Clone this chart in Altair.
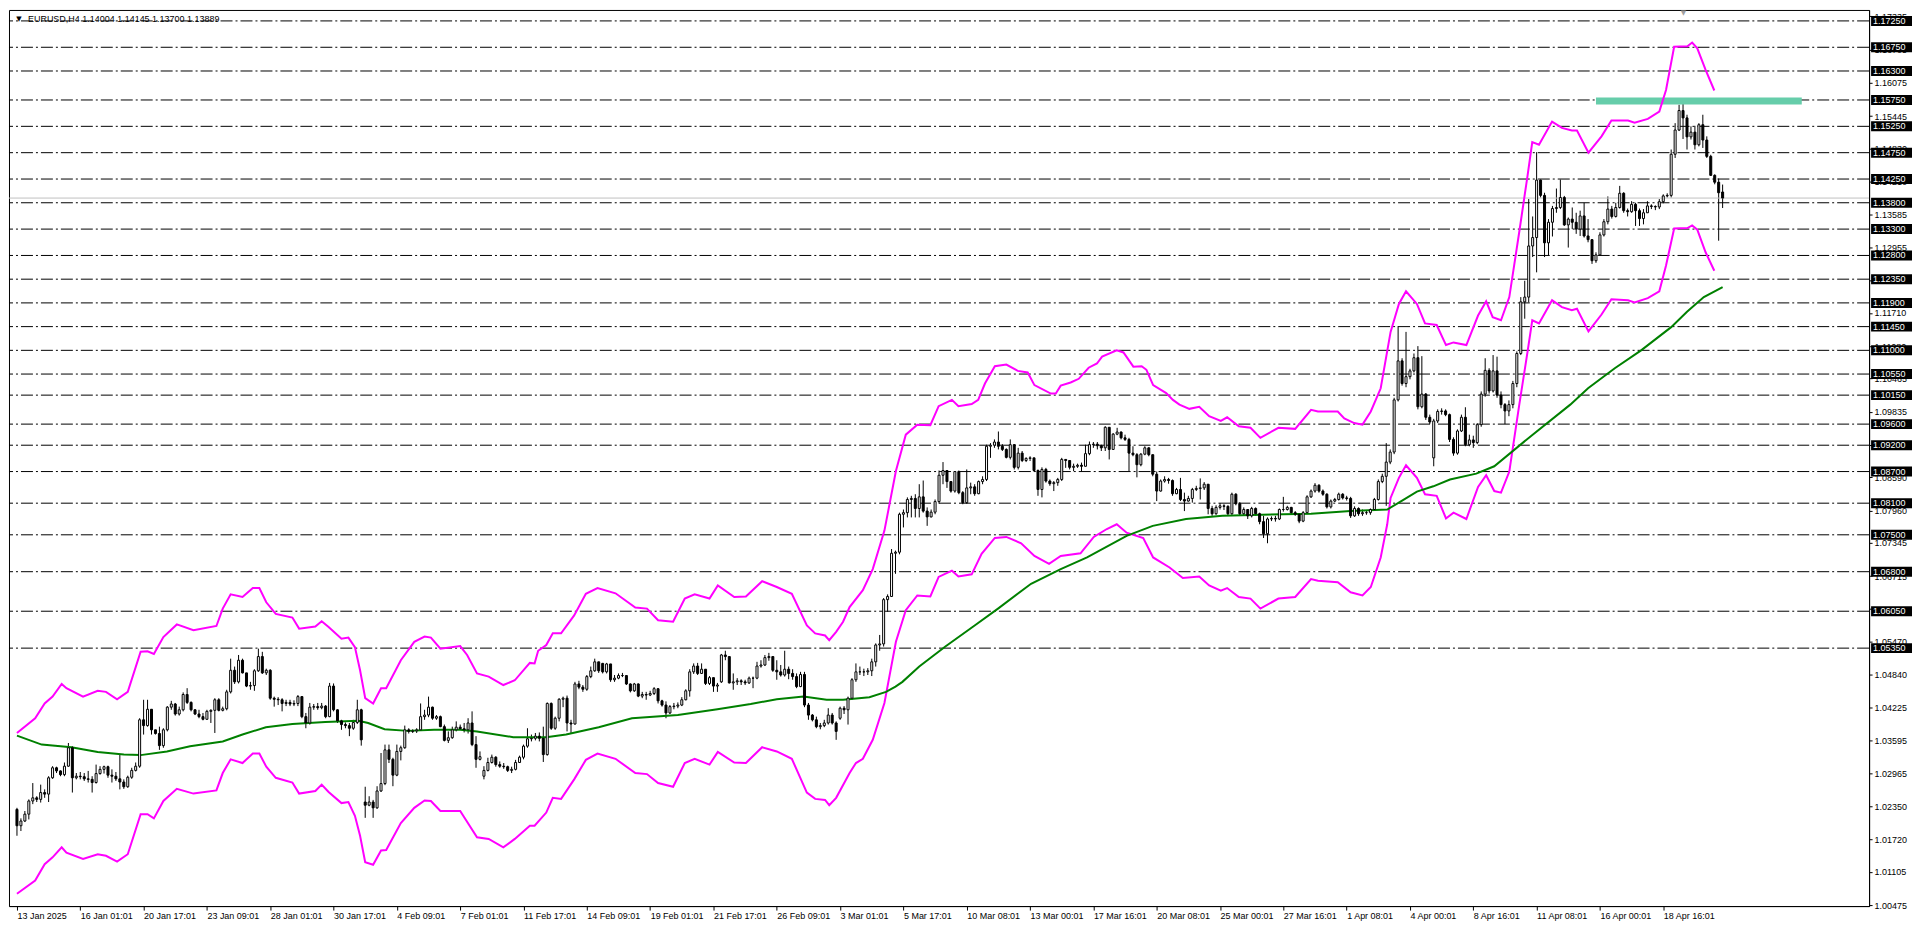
import json
import altair as alt
import pandas as pd

# ---------------- data (pips above 1.0000: price = 1 + v/10000) -------------
close_pips = [
 198,207,220,245,251,248,261,258,289,308, 302,295,311,346,289,292,291,287,286,280,
 297,305,310,294,292,287,281,272,290,303, 311,399,388,419,380,373,350,380,423,429,
 410,418,447,432,418,410,405,400,415,417, 437,417,420,452,493,471,512,488,463,464,
 492,519,488,493,440,438,437,430,432,429, 430,443,405,393,423,424,422,425,405,463,
 418,397,390,388,383,394,418,361,237,243, 232,264,278,342,324,294,339,346,380,377,
 378,380,405,408,423,402,405,386,360,365, 380,385,382,380,393,352,324,329,303,318,
 328,314,311,310,303,305,318,328,349,363, 364,368,364,333,430,383,402,438,440,393,
 391,467,461,457,481,492,509,492,490,505, 475,478,483,483,467,454,467,444,447,446,
 449,458,435,427,412,424,425,427,437,454, 490,501,487,495,468,479,463,465,522,519,
 469,471,473,471,469,478,478,501,503,517, 519,493,490,484,495,487,481,462,485,427,
 408,399,386,388,393,408,393,377,421,418, 440,475,490,490,490,492,509,541,543,627,
 633,715,717,789,792,817,819,800,822,795, 784,793,813,863,872,851,833,870,830,811,
 839,841,828,851,855,918,920,926,918,912, 897,921,878,905,891,895,896,872,836,874,
 852,847,849,855,893,891,878,880,882,880, 904,921,922,919,915,954,912,941,945,934,
 931,905,902,883,903,915,902,865,833,852, 855,853,828,836,817,814,819,836,838,839,
 846,800,790,802,805,804,790,827,809,790, 798,786,800,790,775,752,780,781,780,798,
 798,802,792,789,776,792,822,833,844,833, 827,803,814,817,827,820,819,786,800,790,
 792,792,798,817,851,861,888,907,1006,1080, 1037,1050,1061,1086,993,1017,973,964,966,984,
 985,978,931,905,947,973,921,930,925,959, 1017,1062,1023,1061,1015,997,985,997,1037,1094,
 1192,1201,1298,1314,1423,1394,1304,1343,1369,1371, 1390,1338,1349,1343,1330,1355,1317,1310,1270,1281,
 1319,1344,1368,1354,1371,1398,1365,1363,1377,1365, 1350,1361,1374,1373,1372,1382,1393,1394,1472,1518,
 1555,1541,1505,1514,1490,1528,1499,1468,1432,1419, 1399,1388.9,
]
high_pips = [
 232,212,226,248,279,254,276,267,292,311, 310,303,318,355,349,298,300,298,302,292,
 314,311,312,312,305,300,333,286,293,308, 318,402,437,437,418,380,386,383,425,435,
 431,424,451,459,434,419,418,412,418,419, 440,440,424,456,515,500,522,515,484,471,
 495,534,528,496,495,443,442,440,437,437, 436,446,444,412,431,429,431,431,427,469,
 468,419,399,394,393,399,437,420,272,254, 247,273,336,352,352,327,352,350,388,383,
 381,383,430,418,443,424,408,407,390,377, 386,396,390,393,402,415,368,339,311,327,
 333,330,320,317,312,310,323,331,352,383, 371,374,375,386,432,432,405,440,443,445,
 399,471,473,465,484,500,515,509,507,507, 495,484,487,488,481,468,469,468,452,452,
 454,461,459,437,434,427,431,432,442,457, 495,506,507,506,495,482,479,469,524,530,
 517,487,478,476,475,481,481,509,512,522, 526,519,512,503,530,500,495,487,490,490,
 431,410,405,393,399,421,412,396,424,425, 443,478,506,500,496,497,515,544,560,630,
 637,723,720,792,798,821,824,827,846,853, 802,798,817,872,888,872,852,871,872,833,
 874,849,846,853,861,921,924,931,946,922, 914,931,922,915,909,897,899,895,874,878,
 877,855,852,858,896,893,887,885,885,887, 921,927,926,926,921,956,954,943,953,946,
 940,934,918,905,905,918,916,902,870,855, 861,858,855,839,858,830,824,839,843,857,
 850,846,805,806,810,808,806,830,829,812, 802,795,803,802,792,786,783,785,786,800,
 822,805,803,795,790,795,825,836,848,846, 836,829,817,820,830,829,824,822,804,802,
 798,796,800,820,855,866,924,912,1010,1146, 1085,1135,1065,1094,1108,1089,1019,978,970,988,
 990,988,980,935,950,978,992,940,938,962, 1022,1085,1066,1091,1088,1022,1000,1005,1042,1098,
 1201,1232,1387,1354,1476,1424,1399,1349,1374,1407, 1424,1393,1352,1371,1361,1365,1380,1349,1311,1286,
 1324,1349,1392,1374,1380,1412,1400,1369,1383,1380, 1369,1368,1383,1377,1375,1387,1396,1398,1481,1531,
 1566,1573,1547,1525,1526,1531,1547,1506,1471,1434, 1426,1414.5,
]
low_pips = [
 179,188,205,210,239,243,242,251,243,287, 298,292,292,310,261,286,286,283,280,261,
 278,295,297,289,280,283,267,268,270,287, 301,308,371,386,371,371,342,346,377,418,
 407,407,415,429,415,408,402,398,399,393, 374,415,415,417,449,467,468,487,461,456,
 454,490,486,484,437,424,427,415,425,425, 425,425,402,383,390,418,418,419,402,404,
 415,393,380,383,368,380,391,350,213,235, 213,230,262,275,317,273,292,322,344,373,
 374,374,378,399,404,399,399,385,358,355, 363,377,380,375,373,349,308,322,286,301,
 316,310,308,306,300,298,303,317,324,346, 358,360,358,319,331,380,380,396,423,377,
 374,390,457,452,454,478,490,488,487,487, 471,471,476,480,465,451,452,442,440,437,
 444,446,430,424,402,410,419,421,425,436, 443,486,484,486,465,465,452,452,469,512,
 468,456,465,465,465,467,459,476,498,501, 511,490,475,481,481,476,475,459,461,423,
 399,396,383,381,385,390,390,361,399,410, 390,437,471,484,482,484,482,500,530,538,
 604,632,676,713,764,783,783,783,783,792, 767,783,789,809,846,839,830,830,827,808,
 809,827,824,827,846,852,896,915,912,909, 895,893,874,874,888,888,890,870,824,821,
 849,843,833,843,852,877,874,871,877,870, 880,901,915,912,909,909,893,912,939,931,
 928,871,899,859,880,901,899,861,814,832, 849,847,824,827,814,795,813,811,833,817,
 835,789,786,788,798,797,786,788,806,786, 786,780,783,786,770,744,734,776,775,778,
 794,796,789,786,772,774,790,820,830,830, 824,800,800,812,815,817,815,782,784,786,
 786,788,788,796,815,848,805,884,903,1003, 1033,1030,1045,1058,988,990,968,960,880,962,
 978,975,926,900,902,945,918,918,915,922, 955,1012,1018,1020,1010,990,960,975,990,1030,
 1091,1160,1191,1277,1248,1390,1277,1280,1316,1361, 1368,1336,1295,1330,1321,1317,1314,1305,1264,1266,
 1280,1316,1339,1350,1352,1369,1361,1354,1361,1336, 1336,1339,1363,1368,1366,1368,1379,1390,1390,1465,
 1516,1501,1481,1500,1481,1487,1484,1465,1431,1415, 1308,1370,
]
# opens equal the previous close except where the chart shows a gap
gap_open_pips = {0: 229, 88: 243, 118: 292, 148: 506, 178: 471, 208: 402, 358: 896, 431: 1400.4}

upper_bars = [0,4.6,7,9,11.3,12.5,16.7,20.4,22.5,25.3,28,31.25,33,34.6,37,40.4,44.6,50.4,52,54,57,59.6,61.25,63,65.4,69.6,71.3,75.4,77,78.75,
 82,83.75,85.4,86.7,88,90,92,93.3,97,100.4,103,104.6,107,112,113.75,116.25,119.2,122.9,125.8,129.6,130.8,131.7,133.75,135.4,137.5,140.8,143.75,146.7,151.25,156.25,
 159.2,162,165.8,168.75,171.25,175,177.1,181.25,184.2,188.3,192,195.8,199.6,201.7,204.2,205.25,207,208.75,210.4,213.75,216.25,219.2,222.1,224.6,227.5,230.8,232.9,236.25,237.9,241.25,
 242.9,244.6,247.1,250,252.9,255.4,257.1,261.25,262.5,263.75,266.25,268.3,270.8,272.9,274.2,277.9,279.6,282.1,284.2,285.4,287.1,290.4,292.1,293.75,296.25,298.75,301.25,304.2,305.8,308.75,
 311.7,314.2,318.75,323,327,328.75,333.75,335.4,337.9,340,342.1,344.6,347.1,349.2,351,353.75,355.8,358.75,361.1,363,366.25,369.2,371.25,372.9,375,377.1,379.6,381.7,382.9,384.6,
 387.9,390.4,392.9,394.2,397.1,400.4,402.9,407.1,408.75,412.1,415,416.7,418.75,422.1,423.3,424.6,426.7,428.9]
upper_pips = [374,402,430,443,467,459,443,454,452,438,452,528,529,524,556,580,569,577,610,637,632,649,649,622,600,593,572,576,586,575,
 553,555,537,493,440,430,459,459,512,547,557,555,534,539,522,487,481,465,474,507,506,530,541,563,563,597,638,649,639,612,
 610,588,585,629,637,629,654,632,633,662,651,638,578,563,559,550,566,585,613,645,685,758,871,940,959,958,994,1006,994,998,
 1006,1037,1070,1073,1061,1058,1034,1018,1018,1033,1039,1046,1067,1075,1088,1100,1096,1069,1070,1063,1034,1019,1006,997,989,993,975,966,973,956,
 953,934,953,951,987,984,984,971,962,959,984,1028,1135,1188,1212,1188,1151,1148,1110,1115,1110,1166,1193,1163,1157,1201,1324,1431,1495,1490,
 1534,1522,1517,1517,1475,1506,1536,1536,1532,1539,1553,1594,1676,1677,1684,1673,1632,1593]

lower_bars = [0,4.6,7,9,11.3,12.5,16.7,20.4,22.5,25.3,28,31.25,33,34.6,37,40.4,44.6,50.4,52,54,57,59.6,61.25,63,65.4,69.6,71.3,75.4,77,78.75,
 82,83.75,85.4,86.7,88,90,92,93.3,97,100.4,103,104.6,107,112,116.25,119.2,122.9,125.8,129.6,130.8,133.75,135.4,137.5,140.8,143.75,146.7,151.25,156.25,159.2,162,
 165.8,168.75,171.25,175,177.1,181.25,184.2,188.3,192,195.8,199.6,201.7,204.2,205.25,207,210.4,212,213.75,216.25,219.2,222.1,224.6,227.5,230.8,232.9,236.25,237.9,241.25,243.75,247.1,
 250,253.75,257.1,260.8,263.75,268.75,272.1,275.4,277.9,280.4,284.6,287.1,291.25,294.6,298.75,301.25,304.2,305.8,308.75,311.7,314.2,318.75,323,327,328.75,333.75,337,340,342.1,344.6,
 346.25,347.1,349.2,351,353.75,355.8,358.75,361.1,363,366.25,369.2,371.25,373.3,375,377.1,379.6,381.7,382.9,384.6,387.9,390.4,392.9,394.2,397.1,400.4,402.9,407.1,408.75,412.1,415,
 416.7,418.75,422.1,423.3,424.6,426.7,428.9]
lower_pips = [69,94,125,138,157,147,135,144,141,130,144,220,220,212,245,268,259,265,298,324,317,335,335,310,289,280,259,264,276,262,
 241,243,217,179,129,124,151,152,203,232,246,245,226,226,176,173,157,173,198,198,223,251,249,286,323,335,325,298,296,279,
 272,317,325,314,338,318,317,347,339,325,261,249,247,237,251,298,317,325,361,431,547,607,635,633,670,682,671,675,714,744,
 746,734,710,695,710,715,746,761,770,754,744,707,688,668,671,654,644,649,632,629,610,629,632,666,663,660,641,635,651,707,
 770,820,858,882,858,827,824,781,792,780,841,863,833,830,870,996,1097,1157,1151,1195,1182,1176,1179,1136,1168,1197,1195,1191,1199,1212,
 1261,1331,1332,1337,1329,1286,1251]

ma_bars = [0,6.25,13.75,20.4,27,31.25,37.9,43.75,52,57,62.9,69.6,77.9,86.25,88.75,92.9,98.75,105.4,112,116.25,125.4,133.75,138.75,147,155.4,167,177,185.4,192,198.75,
 204.6,208.75,215.4,219.6,222,223.75,228,234.6,242,247.9,256.25,263.75,270.4,280.4,287,295.4,304.6,314.6,327,337,346.25,349.6,353.75,357.9,362.1,368.75,373.3,383,392.5,397,
 403.75,410.4,418,422,426.25,431]
ma_pips = [369,352,347,338,333,332,339,349,358,371,385,391,395,397,393,381,378,380,380,377,366,366,371,385,402,408,419,429,438,443,
 437,437,442,452,462,471,500,538,578,610,657,685,707,748,767,780,786,788,790,795,798,813,832,842,855,866,880,940,997,1028,
 1066,1100,1144,1173,1201,1220]

level_prices = [1.1725,1.1675,1.1630,1.1575,1.1525,1.1475,1.1425,1.1380,1.1330,1.1280,1.1235,1.1190,1.1145,1.1100,
                1.1055,1.1015,1.0960,1.0920,1.0870,1.0810,1.0750,1.0680,1.0605,1.0535]
axis_tick_prices = [1.00475,1.01105,1.01720,1.02350,1.02965,1.03595,1.04225,1.04840,1.05470,1.06090,1.06715,1.07345,
                    1.07960,1.08590,1.09210,1.09835,1.10465,1.11080,1.11710,1.12330,1.12955,1.13585,1.14210,1.14830,
                    1.15445,1.16075,1.16705,1.17335]
x_tick_labels = ['13 Jan 2025','16 Jan 01:01','20 Jan 17:01','23 Jan 09:01','28 Jan 01:01','30 Jan 17:01','4 Feb 09:01',
                 '7 Feb 01:01','11 Feb 17:01','14 Feb 09:01','19 Feb 01:01','21 Feb 17:01','26 Feb 09:01','3 Mar 01:01',
                 '5 Mar 17:01','10 Mar 08:01','13 Mar 00:01','17 Mar 16:01','20 Mar 08:01','25 Mar 00:01','27 Mar 16:01',
                 '1 Apr 08:01','4 Apr 00:01','8 Apr 16:01','11 Apr 08:01','16 Apr 00:01','18 Apr 16:01']
bars_per_label = 16
bid_price = 1.13889
zone_bars = [399, 451]
zone_prices = [1.15665, 1.15797]
title_text = "EURUSD,H4  1.14004 1.14145 1.13700 1.13889"

# ---------------- build tables -------------
def to_price(v):
    return 1.0 + v / 10000.0

rows = []
prev_close = None
for i, c in enumerate(close_pips):
    o = gap_open_pips.get(i, prev_close)
    h = max(high_pips[i], o, c)
    l = min(low_pips[i], o, c)
    rows.append({"bar": i, "open": to_price(o), "high": to_price(h), "low": to_price(l), "close": to_price(c)})
    prev_close = c
candles = pd.DataFrame(rows)

upper_df = pd.DataFrame({"bar": upper_bars, "price": [to_price(v) for v in upper_pips]})
lower_df = pd.DataFrame({"bar": lower_bars, "price": [to_price(v) for v in lower_pips]})
ma_df = pd.DataFrame({"bar": ma_bars, "price": [to_price(v) for v in ma_pips]})
levels_df = pd.DataFrame({"price": level_prices, "label": [f"{p:.5f}" for p in level_prices]})
zone_df = pd.DataFrame({"x0": [zone_bars[0]], "x1": [zone_bars[1]], "y0": [zone_prices[0]], "y1": [zone_prices[1]]})

W, H = 1864, 898
FONT = "Liberation Sans"
XS = alt.Scale(domain=[-0.75, 466.75], nice=False, zero=False)
YS = alt.Scale(domain=[1.00456, 1.17458], nice=False, zero=False)

label_expr = json.dumps(x_tick_labels).replace('"', "'") + f"[round(datum.value/{bars_per_label})]"
XA = alt.Axis(values=list(range(0, bars_per_label * len(x_tick_labels), bars_per_label)), labelExpr=label_expr,
              grid=False, domainColor="black", tickColor="black", tickSize=4, labelAlign="left",
              labelBaseline="top", labelPadding=1, labelFontSize=9, labelFont=FONT,
              labelColor="black", labelOverlap=False, labelFlush=False, title=None)
YA = alt.Axis(orient="right", values=axis_tick_prices, format=".5f", grid=False, domainColor="black",
              tickColor="black", tickSize=3, labelPadding=2, labelFontSize=9, labelFont=FONT,
              labelColor="black", labelOverlap=False, labelFlush=False, title=None)

def X(field):
    return alt.X(field, scale=XS, axis=XA)

def Y(field):
    return alt.Y(field, scale=YS, axis=YA)

levels = alt.Chart(levels_df).mark_rule(color="black", strokeWidth=1, strokeDash=[12, 3, 2, 3]).encode(
    y=Y("price:Q"))
bid = alt.Chart(pd.DataFrame({"price": [bid_price]})).mark_rule(color="#c0c0c0", strokeWidth=1).encode(
    y=Y("price:Q"))
zone = alt.Chart(zone_df).mark_rect(color="#66cdaa", opacity=1).encode(
    x=X("x0:Q"), x2="x1:Q", y=Y("y0:Q"), y2="y1:Q")

def curve(df, color):
    return alt.Chart(df).mark_line(color=color, strokeWidth=2).encode(x=X("bar:Q"), y=Y("price:Q"))

upper = curve(upper_df, "#ff00ff")
lower = curve(lower_df, "#ff00ff")
ma = curve(ma_df, "#008000")

wicks = alt.Chart(candles).mark_rule(color="black", strokeWidth=1).encode(
    x=X("bar:Q"), y=Y("low:Q"), y2="high:Q")
bodies = alt.Chart(candles).mark_bar(size=2, stroke="black", strokeWidth=1).encode(
    x=X("bar:Q"), y=Y("open:Q"), y2="close:Q",
    fill=alt.condition("datum.close >= datum.open", alt.value("white"), alt.value("black")))

boxes = alt.Chart(levels_df).mark_tick(color="black", thickness=10, size=41, orient="horizontal", opacity=1).encode(
    y=Y("price:Q"), x=alt.value(W + 22.5))
box_text = alt.Chart(levels_df).mark_text(align="left", baseline="middle", color="white", fontSize=9, font=FONT).encode(
    y=Y("price:Q"), x=alt.value(W + 4), text="label:N")

title = alt.Chart(pd.DataFrame({"t": [title_text]})).mark_text(
    align="left", baseline="middle", fontSize=9, font=FONT, color="black").encode(
    text="t:N", x=alt.value(19), y=alt.value(9))
title_icon = alt.Chart(pd.DataFrame({"t": ["\u25bc"]})).mark_text(
    align="center", baseline="middle", fontSize=7, font="DejaVu Sans", color="black").encode(
    text="t:N", x=alt.value(10), y=alt.value(9))
shift_mark = alt.Chart(pd.DataFrame({"t": ["\u25bc"]})).mark_text(
    align="center", baseline="middle", fontSize=7, font="DejaVu Sans", color="#a0a0a0").encode(
    text="t:N", x=alt.value(1678), y=alt.value(3))

chart = alt.layer(
    wicks, levels, bid, zone, upper, lower, ma, bodies, boxes, box_text, title_icon, title, shift_mark
).properties(width=W, height=H, padding=0, background="white").configure_view(stroke="black", strokeWidth=1)

chart.save("out.html", embed_options={"renderer": "svg", "actions": False})
